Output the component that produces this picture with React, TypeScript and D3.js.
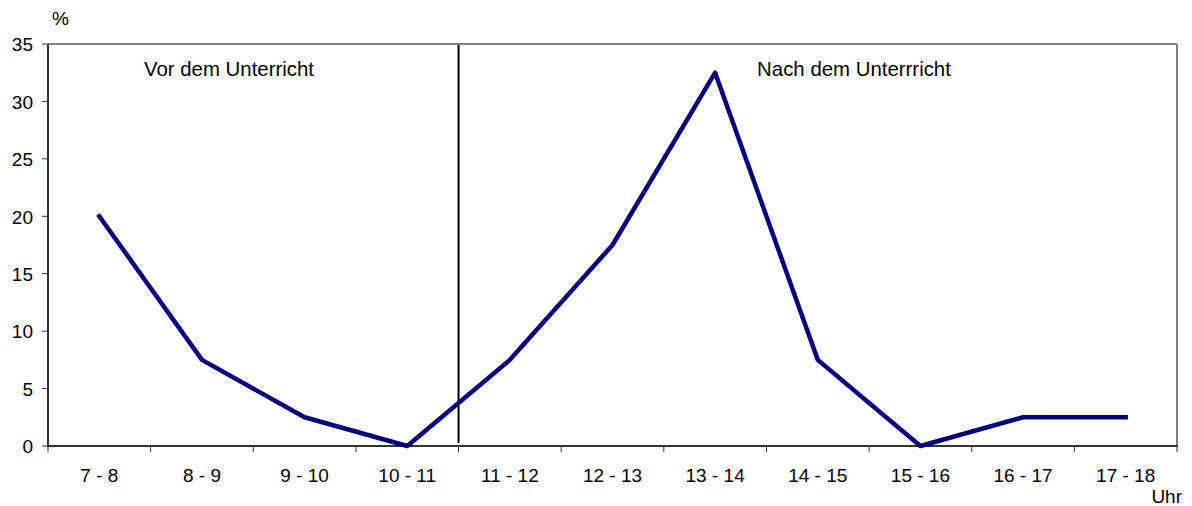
import React from "react";
import * as d3 from "d3";

const categories = ["7 - 8", "8 - 9", "9 - 10", "10 - 11", "11 - 12", "12 - 13", "13 - 14", "14 - 15", "15 - 16", "16 - 17", "17 - 18"];
const values = [20, 7.5, 2.5, 0, 7.5, 17.5, 32.5, 7.5, 0, 2.5, 2.5];
const yTicks = [0, 5, 10, 15, 20, 25, 30, 35];
const dividerIndex = 4;
const leftLabel = "Vor dem Unterricht";
const rightLabel = "Nach dem Unterrricht";

export default function App() {
  const W = 1192, H = 506;
  const L = 48, R = 1177, T = 44, B = 446;
  const x = d3.scaleBand<string>().domain(categories).range([L, R]).paddingInner(0).paddingOuter(0);
  const y = d3.scaleLinear().domain([0, 35]).range([B, T]);
  const line = d3.line<number>()
    .x((_, i) => (x(categories[i]) as number) + x.bandwidth() / 2)
    .y((d) => y(d));
  const font = "'Liberation Sans', Arial, sans-serif";
  const divX = x(categories[dividerIndex]) as number;
  return (
    <svg width={W} height={H} style={{ position: "absolute", left: 0, top: 0, fontFamily: font }}>
      <rect x={0} y={0} width={W} height={H} fill="#fff" />
      <line x1={L} x2={R} y1={T} y2={T} stroke="#808080" strokeWidth={2} />
      <line x1={R} x2={R} y1={T} y2={B} stroke="#808080" strokeWidth={2} />
      <line x1={L} x2={L} y1={T} y2={B + 1} stroke="#333" strokeWidth={2} />
      <line x1={L - 1} x2={R + 1} y1={B} y2={B} stroke="#333" strokeWidth={2} />
      {yTicks.map((t) => (
        <g key={t}>
          <line x1={L - 6} x2={L} y1={y(t)} y2={y(t)} stroke="#333" strokeWidth={1} />
          <text x={L - 15} y={y(t)} dy="0.38em" textAnchor="end" fontSize={19} fill="#000">{t}</text>
        </g>
      ))}
      {categories.map((c, i) => (
        <line key={"t" + i} x1={(x(c) as number)} x2={(x(c) as number)} y1={B} y2={B + 6} stroke="#333" strokeWidth={1} />
      ))}
      <line x1={R} x2={R} y1={B} y2={B + 6} stroke="#333" strokeWidth={1} />
      {categories.map((c) => (
        <text key={c} x={(x(c) as number) + x.bandwidth() / 2} y={482} textAnchor="middle" fontSize={19} fill="#000">{c}</text>
      ))}
      <line x1={divX} x2={divX} y1={T + 1} y2={B - 3} stroke="#000" strokeWidth={2} />
      <path d={line(values) || ""} fill="none" stroke="#000080" strokeWidth={4.5} strokeLinejoin="round" strokeLinecap="square" />
      <text x={229} y={76} textAnchor="middle" fontSize={20.4} fill="#000">{leftLabel}</text>
      <text x={854} y={76} textAnchor="middle" fontSize={20.4} fill="#000">{rightLabel}</text>
      <text x={52} y={25} fontSize={19} fill="#000">%</text>
      <text x={1182} y={503} textAnchor="end" fontSize={19} fill="#000">Uhr</text>
    </svg>
  );
}
